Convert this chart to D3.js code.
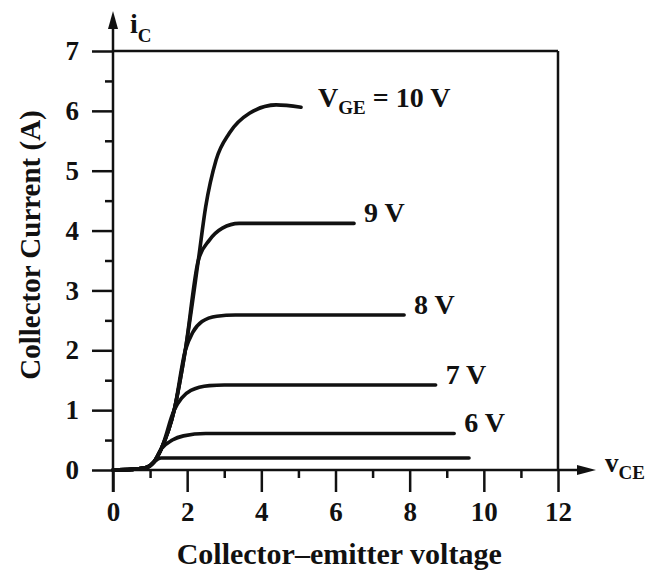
<!DOCTYPE html>
<html>
<head>
<meta charset="utf-8">
<script src="https://cdn.jsdelivr.net/npm/d3@7"></script>
<style>
	body { margin: 0; background: #fff; }
	svg { display: block; }
	text { font-family: "Liberation Serif", "DejaVu Serif", serif; font-weight: bold; fill: #111; }
</style>
</head>
<body>
<script>
// IGBT output characteristics, iC vs vCE for several gate voltages

const xMajor = [0, 2, 4, 6, 8, 10, 12];
const xMinor = [1, 3, 5, 7, 9, 11];
const yMajor = [0, 1, 2, 3, 4, 5, 6, 7];
const yMinor = [0.5, 1.5, 2.5, 3.5, 4.5, 5.5, 6.5];

// shared rising part (vCE, iC)
const envelope = [[0, 0], [0.5, 0.01], [0.9, 0.04], [1.1, 0.13], [1.3, 0.35], [1.65, 1.0], [1.95, 2.0], [2.3, 3.5]];

// where each curve leaves the envelope, and the rest of it
const gateVolts = [5, 6, 7, 8, 9, 10];
const branchAt = [3, 5, 6, 7, 8, 8];
const tails = [
	[[1.3, 0.2], [1.8, 0.2], [9.6, 0.2]],
	[[1.6, 0.5], [1.9, 0.57], [2.5, 0.61], [9.2, 0.61]],
	[[1.85, 1.2], [2.1, 1.33], [2.6, 1.41], [3.0, 1.42], [8.7, 1.42]],
	[[2.15, 2.3], [2.4, 2.48], [2.8, 2.57], [3.3, 2.59], [7.85, 2.59]],
	[[2.6, 3.84], [2.95, 4.04], [3.4, 4.12], [6.5, 4.12]],
	[[2.5, 4.4], [2.78, 5.18], [3.14, 5.63], [3.68, 5.96], [4.4, 6.1], [5.07, 6.06]]
];
const curveLabels = ["", "6 V", "7 V", "8 V", "9 V", "= 10 V"];

const width = 652,
	height = 573;

const x = d3.scaleLinear().domain([0, 12]).range([113, 558]);
const y = d3.scaleLinear().domain([0, 7]).range([470, 51]);

const svg = d3.select("body").append("svg")
	.attr("width", width)
	.attr("height", height);

const ink = "#111";

// ticks
function styleAxis(g){
	g.select(".domain").remove();
	g.selectAll(".tick line").attr("stroke", ink).attr("stroke-width", 2.5);
	g.selectAll(".tick text").attr("fill", ink).style("font-size", "27px");
}

svg.append("g")
	.attr("transform", `translate(0,${y(0)})`)
	.call(d3.axisBottom(x).tickValues(xMajor).tickSize(22).tickPadding(10).tickFormat(d3.format("d")))
	.call(styleAxis);
svg.append("g")
	.attr("transform", `translate(0,${y(0)})`)
	.call(d3.axisBottom(x).tickValues(xMinor).tickSize(8).tickFormat(""))
	.call(styleAxis);
svg.append("g")
	.attr("transform", `translate(${x(0)},0)`)
	.call(d3.axisLeft(y).tickValues(yMajor).tickSize(21).tickPadding(13).tickFormat(d3.format("d")))
	.call(styleAxis);
svg.append("g")
	.attr("transform", `translate(${x(0)},0)`)
	.call(d3.axisLeft(y).tickValues(yMinor).tickSize(8).tickFormat(""))
	.call(styleAxis);

// axes with arrows, plus frame
svg.append("line").attr("x1", x(0)).attr("x2", x(0)).attr("y1", y(0) + 22).attr("y2", 24)
	.attr("stroke", ink).attr("stroke-width", 2.5);
svg.append("line").attr("x1", x(0)).attr("x2", 580).attr("y1", y(0)).attr("y2", y(0))
	.attr("stroke", ink).attr("stroke-width", 2.5);
svg.append("path").attr("d", `M${x(0)},11 L${x(0) - 5},29 L${x(0) + 5},29 Z`).attr("fill", ink);
svg.append("path").attr("d", `M596,${y(0)} L577,${y(0) - 5} L577,${y(0) + 5} Z`).attr("fill", ink);
svg.append("line").attr("x1", x(0)).attr("x2", x(12)).attr("y1", y(7)).attr("y2", y(7))
	.attr("stroke", ink).attr("stroke-width", 2.5);
svg.append("line").attr("x1", x(12)).attr("x2", x(12)).attr("y1", y(7)).attr("y2", y(0))
	.attr("stroke", ink).attr("stroke-width", 2.5);

// curves
const line = d3.line()
	.x(d => x(d[0]))
	.y(d => y(d[1]))
	.curve(d3.curveMonotoneX);

const series = gateVolts.map((v, i) => ({
	v: v,
	label: curveLabels[i],
	pts: envelope.slice(0, branchAt[i]).concat(tails[i])
}));

svg.append("g").selectAll("path")
	.data(series)
	.join("path")
	.attr("d", d => line(d.pts))
	.attr("fill", "none")
	.attr("stroke", ink)
	.attr("stroke-width", 3.6)
	.attr("stroke-linecap", "round");

// curve labels
const lab = svg.append("g").selectAll("text")
	.data(series.filter(d => d.label))
	.join("text")
	.attr("x", d => x(d.pts[d.pts.length - 1][0]) + (d.v == 10 ? 17 : 10))
	.attr("y", d => y(d.pts[d.pts.length - 1][1]) + (d.v == 10 ? 0 : -1))
	.style("font-size", "28px");
lab.filter(d => d.v == 10).each(function(d){
	const t = d3.select(this);
	t.append("tspan").text("V");
	t.append("tspan").attr("dy", 7).style("font-size", "19px").text("GE");
	t.append("tspan").attr("dy", -7).text(" " + d.label);
});
lab.filter(d => d.v != 10).text(d => d.label);

// axis symbols
const ic = svg.append("text").attr("x", 130).attr("y", 33).style("font-size", "28px");
ic.append("tspan").text("i");
ic.append("tspan").attr("dy", 9).style("font-size", "19px").text("C");
const vce = svg.append("text").attr("x", 605).attr("y", 472).style("font-size", "27px");
vce.append("tspan").text("v");
vce.append("tspan").attr("dy", 7).style("font-size", "19px").text("CE");

// titles
svg.append("text")
	.attr("x", x(6.1))
	.attr("y", 564)
	.attr("text-anchor", "middle")
	.style("font-size", "30px")
	.text("Collector\u2013emitter voltage");
svg.append("text")
	.attr("transform", "translate(40,245) rotate(-90)")
	.attr("text-anchor", "middle")
	.style("font-size", "29px")
	.text("Collector Current (A)");
</script>
</body>
</html>
